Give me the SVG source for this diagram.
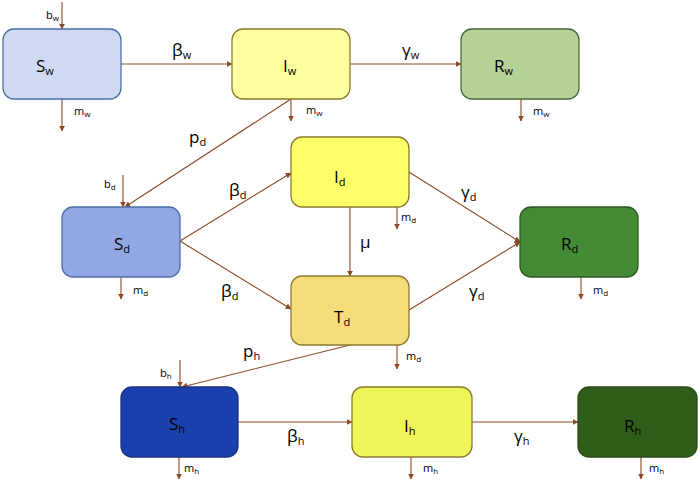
<svg xmlns="http://www.w3.org/2000/svg" width="700" height="483" viewBox="0 0 700 483">
<style>
.box{stroke-width:1.3}
.lbl{font-family:"Open Sans","Liberation Sans",sans-serif;font-size:17px;fill:#000}
.sub{font-size:11px}
.sm{font-family:"Open Sans","Liberation Sans",sans-serif;font-size:11px;fill:#000}
.ssub{font-size:8px}
.c line{stroke:#8b4a26;stroke-width:1.1;fill:none;marker-end:url(#ah)}
</style>
<defs>
<marker id="ah" viewBox="0 0 10 10" refX="9" refY="5" markerWidth="6" markerHeight="6" markerUnits="userSpaceOnUse" orient="auto">
<path d="M0,0 L10,5 L0,10 z" fill="#8b4a26"/>
</marker>
</defs>
<rect width="700" height="483" fill="#fff"/>
<g class="c" id="connectors">
<line x1="62" y1="2" x2="62" y2="29"/>
<line x1="62" y1="99" x2="62" y2="131"/>
<line x1="121" y1="64" x2="232" y2="64"/>
<line x1="291" y1="99" x2="291" y2="121"/>
<line x1="350" y1="64" x2="461" y2="64"/>
<line x1="521" y1="99" x2="521" y2="121"/>
<line x1="291" y1="99" x2="125" y2="207"/>
<line x1="123" y1="175" x2="123" y2="207"/>
<line x1="121" y1="277" x2="121" y2="299"/>
<line x1="180" y1="241" x2="291" y2="173"/>
<line x1="180" y1="241" x2="291" y2="309"/>
<line x1="397" y1="207" x2="397" y2="229"/>
<line x1="350" y1="207" x2="350" y2="276"/>
<line x1="397" y1="345" x2="397" y2="369"/>
<line x1="409" y1="172" x2="520" y2="242"/>
<line x1="409" y1="310" x2="520" y2="242"/>
<line x1="581" y1="277" x2="581" y2="299"/>
<line x1="350" y1="345" x2="182" y2="387"/>
<line x1="180" y1="360" x2="180" y2="387"/>
<line x1="179" y1="457" x2="179" y2="479"/>
<line x1="238" y1="422" x2="352" y2="422"/>
<line x1="411" y1="457" x2="411" y2="479"/>
<line x1="472" y1="422" x2="578" y2="422"/>
<line x1="641" y1="457" x2="641" y2="479"/>
</g>
<g id="edge-labels">
<text class="sm" x="46" y="19">b<tspan class="ssub" dy="2">w</tspan></text>
<text class="sm" x="74" y="115">m<tspan class="ssub" dy="2">w</tspan></text>
<text class="lbl" x="172" y="56">β<tspan class="sub" dy="3">w</tspan></text>
<text class="sm" x="306" y="114">m<tspan class="ssub" dy="2">w</tspan></text>
<text class="lbl" x="402" y="56">γ<tspan class="sub" dy="3">w</tspan></text>
<text class="sm" x="533" y="115">m<tspan class="ssub" dy="2">w</tspan></text>
<text class="lbl" x="189" y="143">p<tspan class="sub" dy="3">d</tspan></text>
<text class="sm" x="104" y="188">b<tspan class="ssub" dy="2">d</tspan></text>
<text class="sm" x="133" y="294">m<tspan class="ssub" dy="2">d</tspan></text>
<text class="lbl" x="229" y="196">β<tspan class="sub" dy="3">d</tspan></text>
<text class="lbl" x="221" y="297">β<tspan class="sub" dy="3">d</tspan></text>
<text class="sm" x="401" y="221">m<tspan class="ssub" dy="2">d</tspan></text>
<text class="lbl" x="360" y="248">μ</text>
<text class="sm" x="406" y="360">m<tspan class="ssub" dy="2">d</tspan></text>
<text class="lbl" x="461" y="198">γ<tspan class="sub" dy="3">d</tspan></text>
<text class="lbl" x="469" y="297">γ<tspan class="sub" dy="3">d</tspan></text>
<text class="sm" x="593" y="294">m<tspan class="ssub" dy="2">d</tspan></text>
<text class="lbl" x="243" y="357">p<tspan class="sub" dy="3">h</tspan></text>
<text class="sm" x="160" y="377">b<tspan class="ssub" dy="2">h</tspan></text>
<text class="sm" x="184" y="472">m<tspan class="ssub" dy="2">h</tspan></text>
<text class="lbl" x="287" y="442">β<tspan class="sub" dy="3">h</tspan></text>
<text class="sm" x="423" y="472">m<tspan class="ssub" dy="2">h</tspan></text>
<text class="lbl" x="514" y="442">γ<tspan class="sub" dy="3">h</tspan></text>
<text class="sm" x="649" y="472">m<tspan class="ssub" dy="2">h</tspan></text>
</g>
<g id="Sw"><rect class="box" x="3" y="29" width="118" height="70" rx="11" fill="#d0d9f2" stroke="#4a6fa5"/><text class="lbl" x="36" y="72">S<tspan class="sub" dy="3">w</tspan></text></g>
<g id="Iw"><rect class="box" x="232" y="29" width="118" height="70" rx="11" fill="#ffffa0" stroke="#8c7a30"/><text class="lbl" x="283" y="72">I<tspan class="sub" dy="3">w</tspan></text></g>
<g id="Rw"><rect class="box" x="461" y="29" width="118" height="70" rx="11" fill="#b4d198" stroke="#4a6a35"/><text class="lbl" x="494" y="72">R<tspan class="sub" dy="3">w</tspan></text></g>
<g id="Sd"><rect class="box" x="62" y="207" width="118" height="70" rx="11" fill="#93a8e2" stroke="#4a6fa5"/><text class="lbl" x="114" y="250">S<tspan class="sub" dy="3">d</tspan></text></g>
<g id="Id"><rect class="box" x="291" y="137" width="118" height="70" rx="11" fill="#ffff66" stroke="#8c7a30"/><text class="lbl" x="334" y="183">I<tspan class="sub" dy="3">d</tspan></text></g>
<g id="Td"><rect class="box" x="291" y="276" width="118" height="69" rx="11" fill="#f7dc7c" stroke="#8c7a30"/><text class="lbl" x="334" y="323">T<tspan class="sub" dy="3">d</tspan></text></g>
<g id="Rd"><rect class="box" x="520" y="207" width="118" height="70" rx="11" fill="#458a35" stroke="#2d5a22"/><text class="lbl" x="561" y="250">R<tspan class="sub" dy="3">d</tspan></text></g>
<g id="Sh"><rect class="box" x="121" y="387" width="117" height="70" rx="11" fill="#1a40ae" stroke="#1a3080"/><text class="lbl" x="169" y="430">S<tspan class="sub" dy="3">h</tspan></text></g>
<g id="Ih"><rect class="box" x="352" y="387" width="120" height="70" rx="11" fill="#eef558" stroke="#8c7a30"/><text class="lbl" x="404" y="432">I<tspan class="sub" dy="3">h</tspan></text></g>
<g id="Rh"><rect class="box" x="578" y="387" width="119" height="70" rx="11" fill="#2e5e1a" stroke="#2a4d18"/><text class="lbl" x="624" y="432">R<tspan class="sub" dy="3">h</tspan></text></g>
</svg>
